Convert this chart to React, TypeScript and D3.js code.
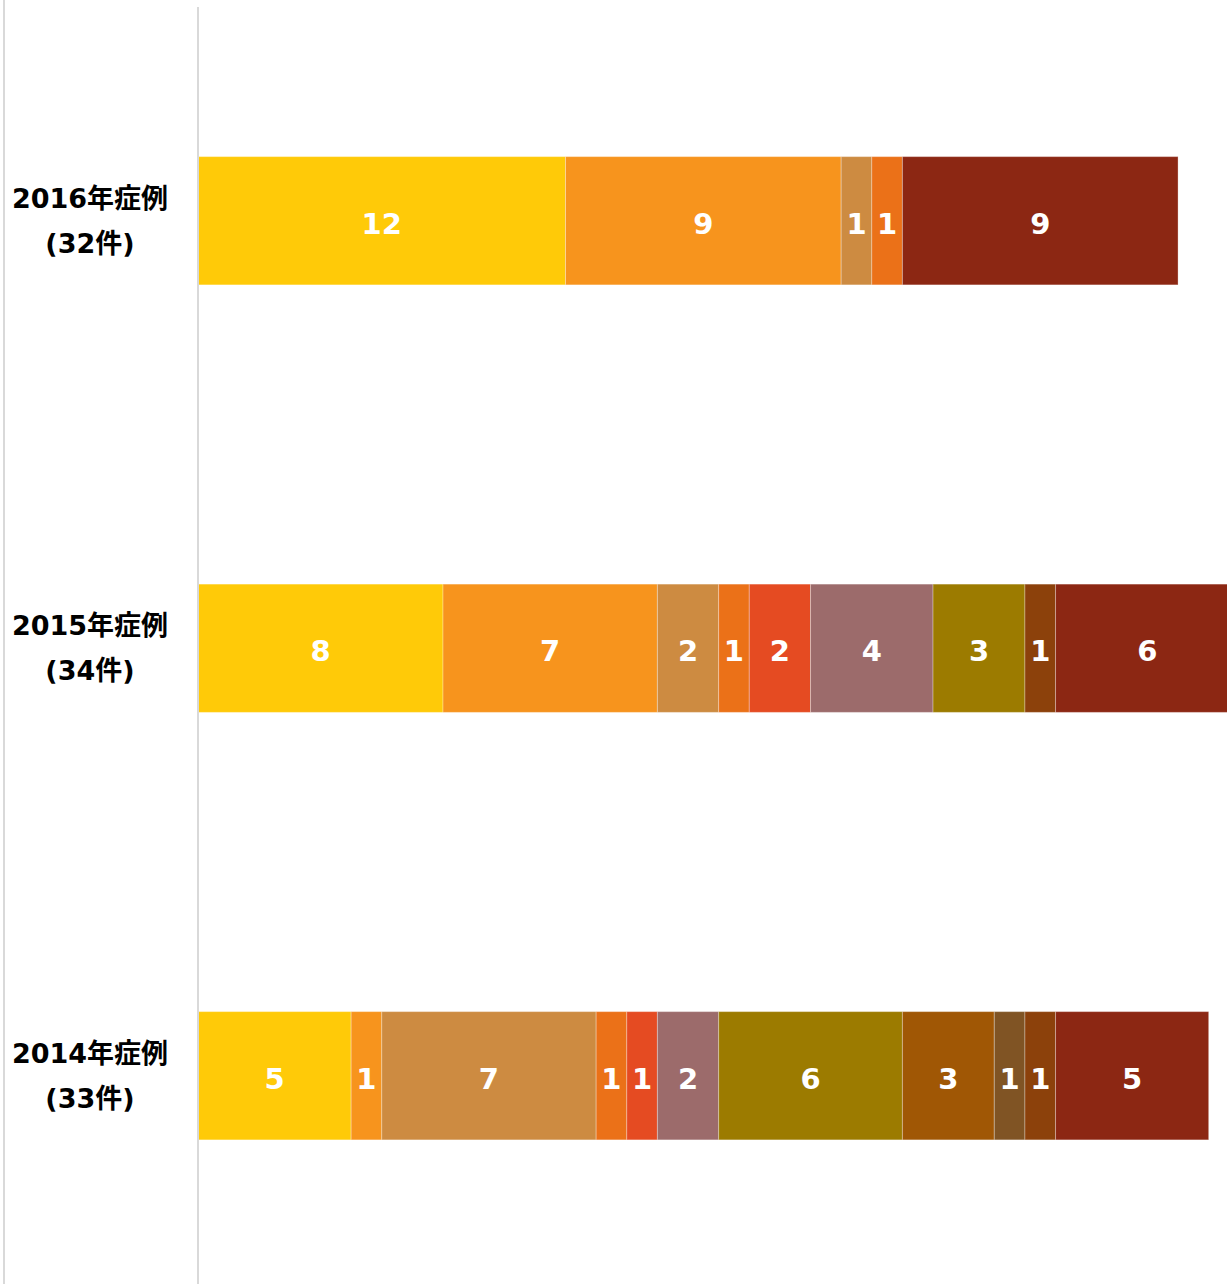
import React from "react";
import * as d3 from "d3";

const categories = ["2016年症例", "2015年症例", "2014年症例"];
const categoryCounts = ["(32件)", "(34件)", "(33件)"];
const seriesKeys = ["s1", "s2", "s3", "s4", "s5", "s6", "s7", "s8", "s9", "s10", "s11"];
const seriesColors = [
  "#FFCA08", "#F7941D", "#CD8B41", "#EB7118", "#E54B22", "#9C6B6B",
  "#9C7B00", "#A05705", "#805424", "#8C410B", "#8C2713",
];
const values2016 = [12, 9, 1, 1, 0, 0, 0, 0, 0, 0, 9];
const values2015 = [8, 7, 2, 1, 2, 4, 3, 0, 0, 1, 6];
const values2014 = [5, 1, 7, 1, 1, 2, 6, 3, 1, 1, 5];
const xMax = 34;

const W = 1227;
const H = 1284;
const FONT = "'DejaVu Sans', 'Noto Sans CJK JP', sans-serif";

export default function App() {
  const rows = [values2016, values2015, values2014].map((vals, i) => {
    const obj: Record<string, any> = { cat: categories[i] };
    seriesKeys.forEach((k, j) => (obj[k] = vals[j]));
    return obj;
  });
  const stack = d3.stack().keys(seriesKeys)(rows as any);
  const x = d3.scaleLinear().domain([0, xMax]).range([198, 1239.3]);
  const y = d3
    .scaleBand()
    .domain(categories)
    .range([7, 1289.5])
    .paddingInner(0.7)
    .paddingOuter(0.35);
  const bw = y.bandwidth();

  return (
    <svg
      width={W}
      height={H}
      style={{ position: "absolute", left: 0, top: 0, background: "#fff" }}
      fontFamily={FONT}
    >
      <line x1={4} x2={4} y1={0} y2={H} stroke="#d9d9d9" strokeWidth={2} />
      {stack.map((layer, si) =>
        layer.map((d, ci) => {
          const v = d[1] - d[0];
          if (v <= 0) return null;
          const cat = categories[ci];
          const y0 = y(cat)!;
          const x0 = x(d[0]);
          const x1 = x(d[1]);
          return (
            <g key={`${si}-${ci}`}>
              <rect
                x={x0}
                y={y0}
                width={x1 - x0}
                height={bw}
                fill={seriesColors[si]}
                stroke="rgba(255,255,255,0.3)"
                strokeWidth={1}
              />
              <text
                x={(x0 + x1) / 2}
                y={y0 + bw / 2 + 3}
                dy="0.35em"
                textAnchor="middle"
                fill="#fff"
                fontWeight="bold"
                fontSize={29}
              >
                {v}
              </text>
            </g>
          );
        })
      )}
      <line x1={198} x2={198} y1={7} y2={H} stroke="#d9d9d9" strokeWidth={2} />
      {categories.map((c, i) => {
        const cy = y(c)! + bw / 2;
        return (
          <g key={c} fontWeight="bold" fontSize={27} fill="#000">
            <text x={90} y={cy - 13} textAnchor="middle">
              {c}
            </text>
            <text x={90} y={cy + 32} textAnchor="middle">
              {categoryCounts[i]}
            </text>
          </g>
        );
      })}
    </svg>
  );
}
